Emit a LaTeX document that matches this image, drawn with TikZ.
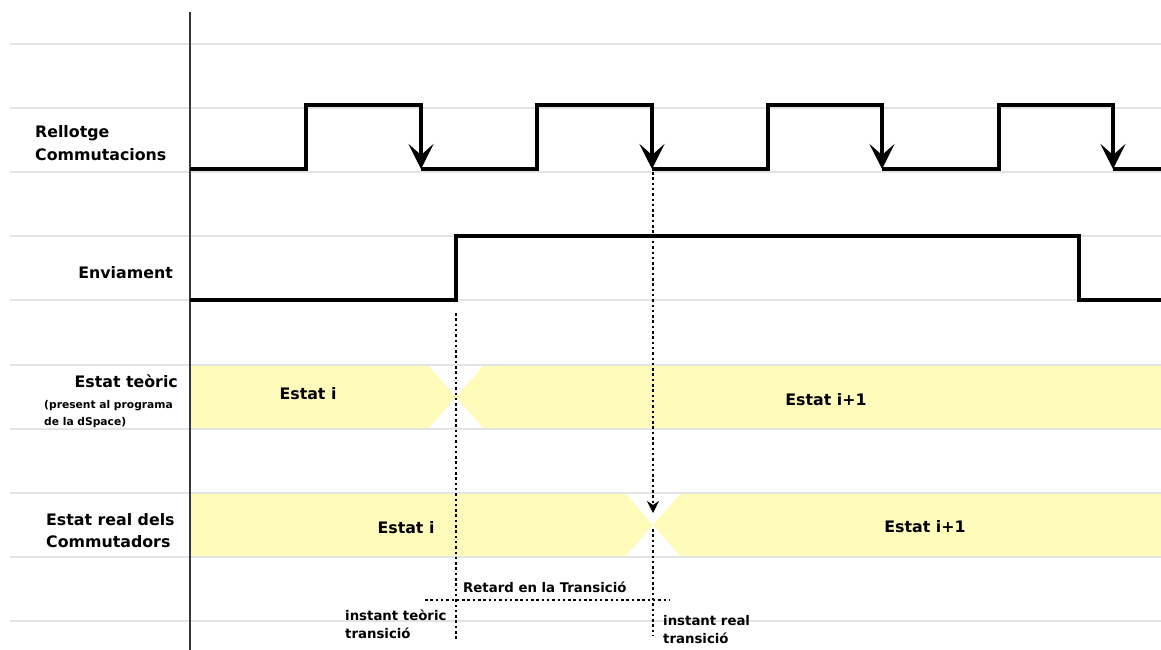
\documentclass[tikz,border=0pt]{standalone}
\usepackage{fontspec}
\setmainfont{DejaVu Sans}
\usetikzlibrary{arrows.meta}
\definecolor{bandyellow}{RGB}{255,251,187}
\definecolor{gridgray}{RGB}{228,228,228}
\definecolor{axisgray}{RGB}{55,55,55}
\begin{document}
\begin{tikzpicture}[x=1pt,y=-1pt,
  gridline/.style={gridgray, line width=1.3pt},
  band/.style={fill=bandyellow, draw=none},
  signal/.style={line width=3.6pt, line join=miter, line cap=butt},
  edgearrow/.style={line width=3.6pt, -{Stealth[length=25pt,width=25pt,inset=11pt]}},
  marker/.style={line width=2.5pt, dash pattern=on 2.5pt off 2.8pt},
  lbl/.style={font=\bfseries\fontsize{15.8}{18}\selectfont, inner sep=0pt},
  smalllbl/.style={font=\bfseries\fontsize{10.7}{13}\selectfont, inner sep=0pt},
  notelbl/.style={font=\bfseries\fontsize{13.3}{16}\selectfont, inner sep=0pt}]

\useasboundingbox (0,0) rectangle (1161,650);

% state bands (theoretical and real) with crossing transitions
\fill[band] (190,365) -- (428,365) -- (456,397) -- (428,429) -- (190,429) -- cycle;
\fill[band] (484,365) -- (1161,365) -- (1161,429) -- (484,429) -- (456,397) -- cycle;
\fill[band] (190,493) -- (625,493) -- (653,525) -- (625,557) -- (190,557) -- cycle;
\fill[band] (681,493) -- (1161,493) -- (1161,557) -- (681,557) -- (653,525) -- cycle;

% horizontal guide lines
\foreach \yy in {44,108,172,236,300,365,429,493,557,621}
  \draw[gridline] (10,\yy) -- (1161,\yy);

% vertical axis
\draw[axisgray, line width=1.6pt] (190,12) -- (190,650);

% switching clock
\draw[signal] (190,169) -- (306,169) -- (306,105) -- (421,105) -- (421,118)
  (421,169) -- (537,169) -- (537,105) -- (652,105) -- (652,118)
  (652,169) -- (768,169) -- (768,105) -- (882,105) -- (882,118)
  (882,169) -- (999,169) -- (999,105) -- (1113,105) -- (1113,118)
  (1113,169) -- (1161,169);
\coordinate (ck1) at (421,169);
\coordinate (ck2) at (652,169);
\coordinate (ck3) at (882,169);
\coordinate (ck4) at (1113,169);
\foreach \c in {ck1,ck2,ck3,ck4}
  \draw[edgearrow] ([yshift=62pt]\c) -- (\c);

% send signal
\draw[signal] (190,300) -- (456,300) -- (456,236) -- (1079,236) -- (1079,300) -- (1161,300);

% transition markers
\coordinate (teoTop) at (456,313);
\coordinate (teoBot) at (456,641);
\coordinate (realTop) at (653,172);
\coordinate (realTip) at (653,513);
\coordinate (realLow) at (653,529);
\coordinate (realBot) at (653,636);
\coordinate (delayL) at (425,600);
\coordinate (delayR) at (669,600);
\draw[marker] (teoTop) -- (teoBot);
\draw[marker, -{Stealth[length=12pt,width=12pt,inset=4pt]}] (realTop) -- (realTip);
\draw[marker] (realLow) -- (realBot);
\draw[marker] (delayL) -- (delayR);

% signal names
\node[lbl, anchor=base west] (rel1) at (35,137) {Rellotge};
\node[lbl, anchor=base west] (rel2) at (35,160) {Commutacions};
\node[lbl, anchor=base east] (env) at (173,278) {Enviament};
\node[lbl, anchor=base east] (teo) at (178,387) {Estat teòric};
\node[smalllbl, anchor=base west] (teo2) at (44,408) {(present al programa};
\node[smalllbl, anchor=base west] (teo3) at (44,425) {de la dSpace)};
\node[lbl, anchor=base west] (real1) at (46,525) {Estat real dels};
\node[lbl, anchor=base west] (real2) at (46,547) {Commutadors};

% state names
\node[lbl, anchor=base] (s1) at (308,399) {Estat i};
\node[lbl, anchor=base] (s2) at (826,405) {Estat i+1};
\node[lbl, anchor=base] (s3) at (406,533) {Estat i};
\node[lbl, anchor=base] (s4) at (925,532) {Estat i+1};

% annotations
\node[notelbl, anchor=base west] (delay) at (463,592) {Retard en la Transició};
\node[notelbl, anchor=base west] (it1) at (345,620) {instant teòric};
\node[notelbl, anchor=base west] (it2) at (345,638) {transició};
\node[notelbl, anchor=base west] (ir1) at (663,625) {instant real};
\node[notelbl, anchor=base west] (ir2) at (663,643) {transició};
\end{tikzpicture}
\end{document}
